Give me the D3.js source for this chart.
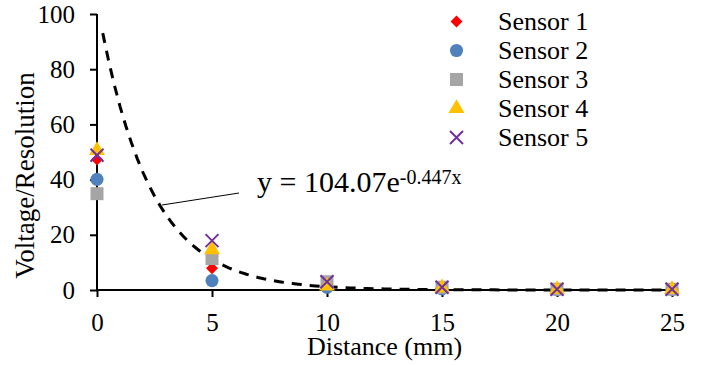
<!DOCTYPE html>
<html>
<head>
<meta charset="utf-8">
<script src="https://cdn.jsdelivr.net/npm/d3@7"></script>
</head>
<body style="margin:0;background:#fff">
<svg id="chart"></svg>
<script>
// data
var distances = [0, 5, 10, 15, 20, 25];
var sensor1 = [47.3, 7.9, 2.0, 0.6, 0.2, 0.2];
var sensor2 = [40.1, 3.4, 1.0, 0.4, 0.1, 0.1];
var sensor3 = [34.9, 11.4, 3.0, 1.0, 0.3, 0.3];
var sensor4 = [50.6, 14.6, 1.5, 0.8, 0.2, 0.2];
var sensor5 = [48.8, 17.9, 3.0, 1.0, 0.3, 0.3];
var seriesNames = ['Sensor 1', 'Sensor 2', 'Sensor 3', 'Sensor 4', 'Sensor 5'];
var xTicks = [0, 5, 10, 15, 20, 25];
var yTicks = [0, 20, 40, 60, 80, 100];
var fitA = 104.07, fitB = -0.447;

var FONT = 'Liberation Serif';
var W = 701, H = 365;
var margin = { top: 14, left: 97, bottom: 75, right: 29 };
var width = W - margin.left - margin.right,
    height = H - margin.top - margin.bottom;

var svg = d3.select('#chart')
    .attr('width', W)
    .attr('height', H);
var g = svg.append('g').attr('transform', 'translate(' + margin.left + ',' + margin.top + ')');

var x = d3.scaleLinear().domain([0, 25]).range([0, width]);
var y = d3.scaleLinear().domain([0, 100]).range([height, 0]);

// axes
var yAxis = d3.axisLeft(y).tickValues(yTicks).tickSize(7).tickPadding(15);
var gy = g.append('g').call(yAxis);
var xAxis = d3.axisBottom(x).tickValues(xTicks).tickSize(7).tickPadding(16);
var gx = g.append('g').attr('transform', 'translate(0,' + height + ')').call(xAxis);
[gx, gy].forEach(a => {
    a.attr('font-family', null).attr('font-size', null);
    a.selectAll('path, line').attr('stroke', '#000').attr('stroke-width', 2);
    a.selectAll('text').attr('fill', '#000').attr('font-size', 25);
});
gx.select('.domain').attr('d', 'M0,0H' + width);
gy.select('.domain').attr('d', 'M0,0V' + height);

// trendline
var fit = d3.range(0, 25.01, 0.25).map(d => ({ x: d, y: fitA * Math.exp(fitB * d) }));
g.append('path')
    .datum(fit.filter(d => d.y <= 100))
    .attr('fill', 'none')
    .attr('stroke', '#000')
    .attr('stroke-width', 3)
    .attr('stroke-dasharray', '10,8')
    .attr('d', d3.line().x(d => x(d.x)).y(d => y(d.y)));

// markers
var series = [
    { name: seriesNames[0], vals: sensor1, color: '#ff0000', sym: d3.symbolDiamond2, size: 90 },
    { name: seriesNames[1], vals: sensor2, color: '#4f81bd', sym: d3.symbolCircle, size: 135 },
    { name: seriesNames[2], vals: sensor3, color: '#a5a5a5', sym: d3.symbolSquare, size: 169 },
    { name: seriesNames[3], vals: sensor4, color: '#ffc000', sym: d3.symbolTriangle, size: 110 },
    { name: seriesNames[4], vals: sensor5, color: '#7030a0', sym: 'x', size: 0 }
];

function drawMarker(sel, s) {
    if (s.sym === 'x') {
        var r = 6.5;
        sel.append('path')
            .attr('d', 'M' + -r + ',' + -r + 'L' + r + ',' + r + 'M' + r + ',' + -r + 'L' + -r + ',' + r)
            .attr('stroke', s.color).attr('stroke-width', 2).attr('fill', 'none');
    } else {
        sel.append('path')
            .attr('d', d3.symbol().type(s.sym).size(s.size)())
            .attr('fill', s.color);
    }
}

series.forEach(s => {
    s.vals.forEach((v, i) => {
        var m = g.append('g').attr('transform', 'translate(' + x(distances[i]) + ',' + y(v) + ')');
        drawMarker(m, s);
    });
});

// equation label + leader line
g.append('line')
    .attr('x1', 162 - margin.left).attr('y1', 205 - margin.top)
    .attr('x2', 239 - margin.left).attr('y2', 193 - margin.top)
    .attr('stroke', '#000').attr('stroke-width', 1);
var eq = g.append('text')
    .attr('x', 257 - margin.left).attr('y', 192 - margin.top)
    .attr('font-size', 30);
eq.append('tspan').text('y = 104.07e');
eq.append('tspan').text('-0.447x').attr('dy', -8).attr('font-size', 20);

// legend
var legend = svg.append('g').attr('transform', 'translate(456.5,21.5)');
series.forEach((s, i) => {
    var row = legend.append('g').attr('transform', 'translate(0,' + i * 29 + ')');
    drawMarker(row, s);
    row.append('text').attr('x', 41.5).attr('y', 8.5).attr('font-size', 26).text(s.name);
});

// axis titles
svg.append('text')
    .attr('transform', 'translate(33.5,175.5) rotate(-90)')
    .attr('text-anchor', 'middle')
    .attr('font-size', 27)
    .text('Voltage/Resolution');
svg.append('text')
    .attr('x', 384.5).attr('y', 355)
    .attr('text-anchor', 'middle')
    .attr('font-size', 26)
    .text('Distance (mm)');

// serif everywhere
svg.selectAll('text, tspan').attr('font-family', FONT);
</script>
</body>
</html>
